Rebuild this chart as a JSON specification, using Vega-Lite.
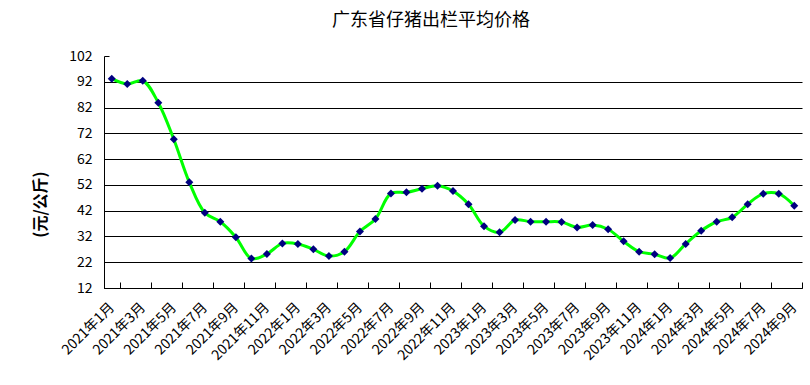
{
  "$schema": "https://vega.github.io/schema/vega-lite/v6.json",
  "autosize": "none",
  "width": 698,
  "height": 232,
  "padding": {"left": 104, "top": 56, "right": 8, "bottom": 97},
  "background": "white",
  "config": {"view": {"stroke": null}, "font": "Noto Sans CJK SC"},
  "title": {"text": "广东省仔猪出栏平均价格", "fontSize": 18, "fontWeight": "normal", "font": "Noto Sans CJK SC", "color": "black", "anchor": "middle", "offset": 19, "dx": -22},
  "data": {"values": [
    {"m": "2021年1月", "v": 93.2}, {"m": "2021年2月", "v": 91.1}, {"m": "2021年3月", "v": 92.4}, {"m": "2021年4月", "v": 83.9},
    {"m": "2021年5月", "v": 69.7}, {"m": "2021年6月", "v": 53.0}, {"m": "2021年7月", "v": 41.2}, {"m": "2021年8月", "v": 37.7},
    {"m": "2021年9月", "v": 31.7}, {"m": "2021年10月", "v": 23.4}, {"m": "2021年11月", "v": 25.2}, {"m": "2021年12月", "v": 29.3},
    {"m": "2022年1月", "v": 29.1}, {"m": "2022年2月", "v": 27.0}, {"m": "2022年3月", "v": 24.4}, {"m": "2022年4月", "v": 26.1},
    {"m": "2022年5月", "v": 33.9}, {"m": "2022年6月", "v": 38.8}, {"m": "2022年7月", "v": 48.7}, {"m": "2022年8月", "v": 49.1},
    {"m": "2022年9月", "v": 50.5}, {"m": "2022年10月", "v": 51.7}, {"m": "2022年11月", "v": 49.6}, {"m": "2022年12月", "v": 44.5},
    {"m": "2023年1月", "v": 36.0}, {"m": "2023年2月", "v": 33.6}, {"m": "2023年3月", "v": 38.4}, {"m": "2023年4月", "v": 37.7},
    {"m": "2023年5月", "v": 37.7}, {"m": "2023年6月", "v": 37.6}, {"m": "2023年7月", "v": 35.5}, {"m": "2023年8月", "v": 36.4},
    {"m": "2023年9月", "v": 34.8}, {"m": "2023年10月", "v": 30.1}, {"m": "2023年11月", "v": 26.1}, {"m": "2023年12月", "v": 25.1},
    {"m": "2024年1月", "v": 23.6}, {"m": "2024年2月", "v": 29.1}, {"m": "2024年3月", "v": 34.2}, {"m": "2024年4月", "v": 37.7},
    {"m": "2024年5月", "v": 39.4}, {"m": "2024年6月", "v": 44.5}, {"m": "2024年7月", "v": 48.6}, {"m": "2024年8月", "v": 48.6},
    {"m": "2024年9月", "v": 43.9}
  ]},
  "encoding": {
    "x": {
      "field": "m", "type": "nominal", "sort": null, "bandPosition": 0.5,
      "scale": {"type": "band", "paddingInner": 0, "paddingOuter": 0},
      "axis": {
        "title": null,
        "values": ["2021年1月","2021年3月","2021年5月","2021年7月","2021年9月","2021年11月","2022年1月","2022年3月","2022年5月","2022年7月","2022年9月","2022年11月","2023年1月","2023年3月","2023年5月","2023年7月","2023年9月","2023年11月","2024年1月","2024年3月","2024年5月","2024年7月","2024年9月"],
        "tickBand": "extent",
        "tickSize": -6,
        "tickColor": "black",
        "domainColor": "black",
        "labelAngle": -45,
        "labelAlign": "right",
        "labelBaseline": "middle",
        "labelFontSize": 14,
        "labelColor": "black",
        "labelPadding": 23,
        "labelOverlap": false,
        "grid": false
      }
    },
    "y": {
      "field": "v", "type": "quantitative",
      "scale": {"domain": [12, 102], "nice": false, "zero": false},
      "axis": {
        "values": [12, 22, 32, 42, 52, 62, 72, 82, 92, 102],
        "title": "(元/公斤)",
        "titleFontSize": 16,
        "titleFontWeight": "bold",
        "titleColor": "black",
        "titleX": -64,
        "titleY": 148,
        "titleAlign": "center",
        "titleBaseline": "middle",
        "tickSize": -5,
        "tickColor": "black",
        "domainColor": "black",
        "labelFontSize": 14,
        "labelColor": "black",
        "labelPadding": 17,
        "grid": true,
        "gridColor": {"condition": {"test": "datum.value >= 102", "value": "transparent"}, "value": "black"},
        "gridWidth": 1,
        "gridOpacity": 1
      }
    }
  },
  "layer": [
    {"mark": {"type": "line", "color": "#00ff00", "strokeWidth": 3, "interpolate": "catmull-rom"}},
    {"mark": {"type": "point", "shape": "diamond", "filled": true, "color": "#000080", "size": 64, "opacity": 1}}
  ]
}
